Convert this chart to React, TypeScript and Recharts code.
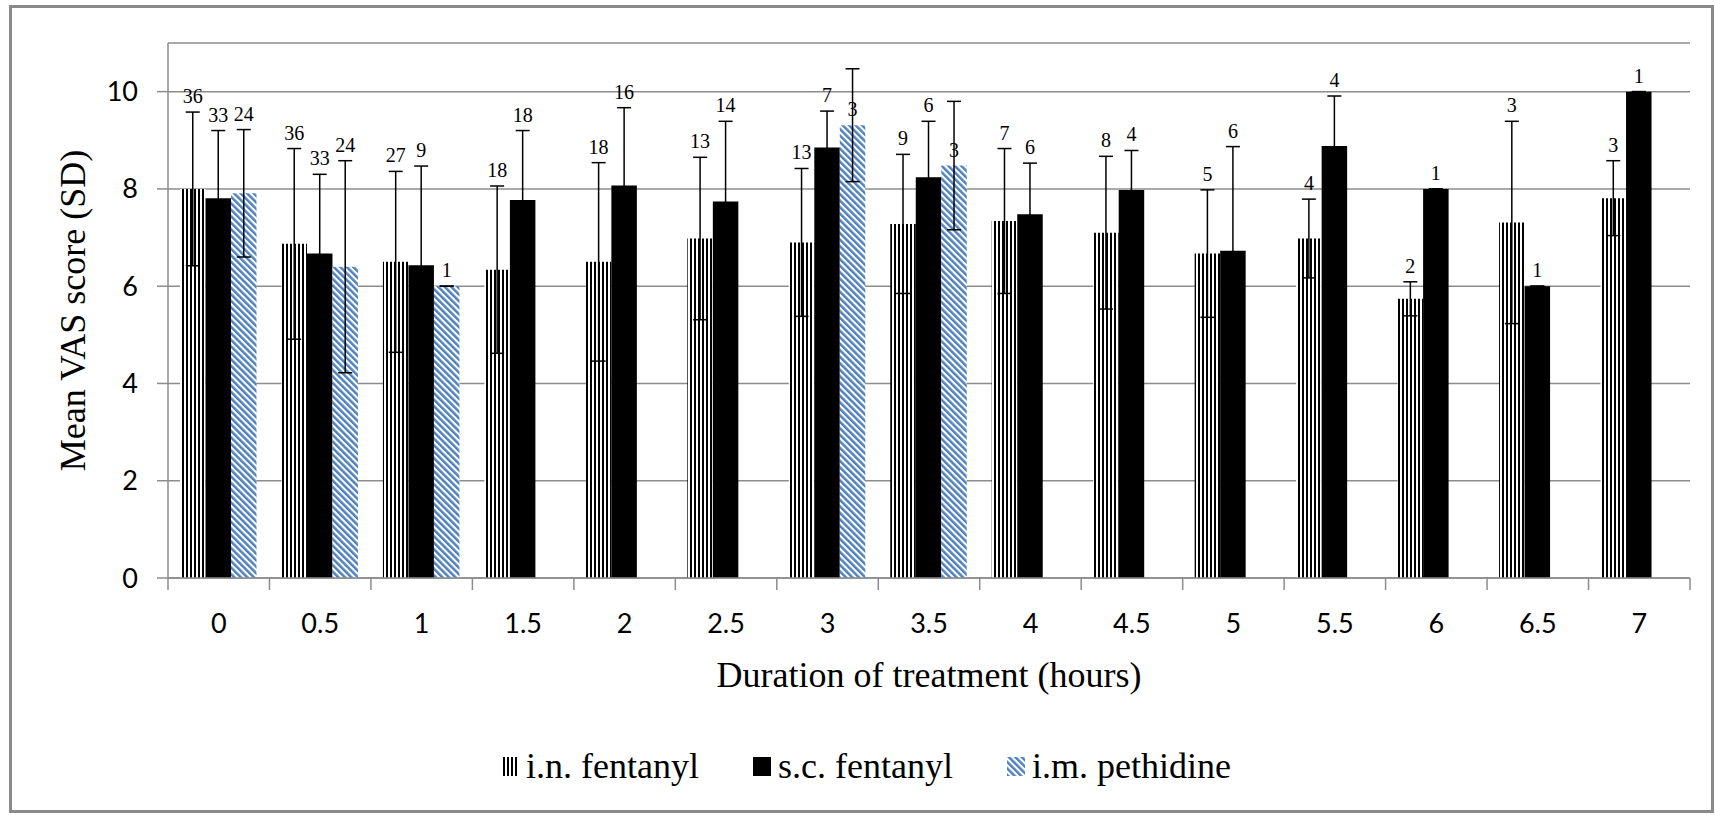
import React from 'react'
import { BarChart, Bar, XAxis, YAxis, CartesianGrid, ErrorBar, LabelList, Label } from 'recharts'

// time points (hours)
const categories = ['0', '0.5', '1', '1.5', '2', '2.5', '3', '3.5', '4', '4.5', '5', '5.5', '6', '6.5', '7']

// i.n. fentanyl
const inMean = [8.0, 6.87, 6.5, 6.34, 6.5, 6.98, 6.9, 7.28, 7.34, 7.1, 6.67, 6.98, 5.74, 7.31, 7.81]
const inSd = [1.58, 1.96, 1.86, 1.72, 2.04, 1.67, 1.52, 1.43, 1.49, 1.57, 1.31, 0.81, 0.35, 2.08, 0.77]
const inN = [36, 36, 27, 18, 18, 13, 13, 9, 7, 8, 5, 4, 2, 3, 3]

// s.c. fentanyl
const scMean = [7.81, 6.67, 6.43, 7.77, 8.07, 7.74, 8.85, 8.24, 7.48, 7.98, 6.73, 8.88, 8.0, 6.0, 10.0]
const scSd = [1.39, 1.63, 2.04, 1.43, 1.6, 1.65, 0.75, 1.15, 1.05, 0.81, 2.14, 1.03, 0, 0, 0]
const scN = [33, 33, 9, 18, 16, 14, 7, 6, 6, 4, 6, 4, 1, 1, 1]

// i.m. pethidine
const imMean = [7.91, 6.4, 6.0, null, null, null, 9.31, 8.48, null, null, null, null, null, null, null]
const imSd = [1.31, 2.18, 0, null, null, null, 1.16, 1.32, null, null, null, null, null, null, null]
const imN = [24, 24, 1, null, null, null, 3, 3, null, null, null, null, null, null, null]

const yTicks = [0, 2, 4, 6, 8, 10]

const data = categories.map((t, i) => ({
  t,
  inMean: inMean[i],
  inSd: inSd[i],
  inN: inN[i],
  scMean: scMean[i],
  scSd: scSd[i],
  scN: scN[i],
  imMean: imMean[i],
  imSd: imSd[i],
  imN: imN[i]
}))

const W = 1715
const H = 815
const PLOT_LEFT = 168
const PLOT_RIGHT = 1690
const HALF_BAND = (PLOT_RIGHT - PLOT_LEFT) / categories.length / 2

const GRAY = '#8c8c8c'
const BLUE = '#4f81bd'
const SERIF = '"Liberation Serif", "Times New Roman", serif'
const SANS = 'Lato, "Open Sans", sans-serif'

// symmetric error as [low, high] so that n=1 (sd 0) still draws the cap
const err = (key: string) => (d: any) => (d[key] == null ? null : [d[key], d[key]])

const countLabel = (meanKey: string, sdKey: string) => (props: any) => {
  const { x, y, width, height, value, index } = props
  if (value == null) return null
  const row: any = data[index]
  const mean = row[meanKey]
  const sd = row[sdKey] || 0
  const pxPerUnit = mean ? height / mean : 0
  const top = y - sd * pxPerUnit
  return (
    <text x={x + width / 2} y={top - 9} textAnchor="middle" fontFamily={SERIF} fontSize={20} fill="#000" stroke="none">
      {value}
    </text>
  )
}

const XTick = (props: any) => {
  const { x, y, payload } = props
  const last = payload.index === categories.length - 1
  return (
    <g>
      <line x1={x - HALF_BAND} y1={y} x2={x - HALF_BAND} y2={y + 12} stroke={GRAY} strokeWidth={1.5} />
      {last && <line x1={x + HALF_BAND} y1={y} x2={x + HALF_BAND} y2={y + 12} stroke={GRAY} strokeWidth={1.5} />}
      <text x={x} y={y + 55} textAnchor="middle" fontFamily={SANS} fontSize={27} fill="#000">
        {payload.value}
      </text>
    </g>
  )
}

const Patterns = ({ suffix }: { suffix: string }) => (
  <defs>
    <pattern id={'vstripe' + suffix} patternUnits="userSpaceOnUse" width={4} height={10}>
      <rect x={0} y={0} width={4} height={10} fill="#fff" />
      <rect x={2} y={0} width={2} height={10} fill="#000" />
    </pattern>
    <pattern id={'diag' + suffix} patternUnits="userSpaceOnUse" width={4.6} height={10} patternTransform="rotate(-45)">
      <rect x={0} y={0} width={4.6} height={10} fill="#fff" />
      <rect x={0} y={0} width={2.5} height={10} fill={BLUE} />
    </pattern>
  </defs>
)

const legendItems = [
  { name: 'i.n. fentanyl', fill: 'url(#vstripeL)' },
  { name: 's.c. fentanyl', fill: '#000' },
  { name: 'i.m. pethidine', fill: 'url(#diagL)' }
]

export default function App() {
  return (
    <div style={{ position: 'absolute', left: 0, top: 0, width: W, height: H, background: '#fff' }}>
      <div
        style={{
          position: 'absolute',
          left: 9,
          top: 5,
          width: 1705,
          height: 808,
          border: '3px solid #8a8a8a',
          boxSizing: 'border-box'
        }}
      />
      <div style={{ position: 'absolute', left: 0, top: 0 }}>
        <BarChart
          width={W}
          height={H}
          data={data}
          margin={{ top: 43, right: W - PLOT_RIGHT, left: 88, bottom: 117 }}
          barGap={0}
          barSize={25.5}
        >
          <Patterns suffix="" />
          <CartesianGrid vertical={false} stroke={GRAY} strokeWidth={1.5} />
          <XAxis
            dataKey="t"
            interval={0}
            height={120}
            tickLine={false}
            tickSize={0}
            tickMargin={0}
            axisLine={{ stroke: GRAY, strokeWidth: 1.5 }}
            tick={<XTick />}
          >
            <Label
              content={(p: any) => {
                const vb = p.viewBox
                return (
                  <text x={vb.x + vb.width / 2} y={vb.y + 109} textAnchor="middle" fontFamily={SERIF} fontSize={36} fill="#000">
                    Duration of treatment (hours)
                  </text>
                )
              }}
            />
          </XAxis>
          <YAxis
            width={80}
            domain={[0, 11]}
            ticks={yTicks}
            interval={0}
            tickSize={11}
            tickMargin={19}
            axisLine={{ stroke: GRAY, strokeWidth: 1.5 }}
            tickLine={{ stroke: GRAY, strokeWidth: 1.5 }}
            tick={{ fontFamily: SANS, fontSize: 27, fill: '#000' }}
          >
            <Label
              content={(p: any) => {
                const vb = p.viewBox
                const cx = vb.x - 15
                const cy = vb.y + vb.height / 2
                return (
                  <text
                    x={cx}
                    y={cy}
                    transform={`rotate(-90 ${cx} ${cy})`}
                    textAnchor="middle"
                    dominantBaseline="central"
                    fontFamily={SERIF}
                    fontSize={36}
                    fill="#000"
                  >
                    Mean VAS score (SD)
                  </text>
                )
              }}
            />
          </YAxis>
          <Bar dataKey="inMean" fill="url(#vstripe)" isAnimationActive={false}>
            <ErrorBar dataKey={err('inSd')} width={7} stroke="#000" strokeWidth={1.5} />
            <LabelList dataKey="inN" content={countLabel('inMean', 'inSd')} />
          </Bar>
          <Bar dataKey="scMean" fill="#000" isAnimationActive={false}>
            <ErrorBar dataKey={err('scSd')} width={7} stroke="#000" strokeWidth={1.5} />
            <LabelList dataKey="scN" content={countLabel('scMean', 'scSd')} />
          </Bar>
          <Bar dataKey="imMean" fill="url(#diag)" isAnimationActive={false}>
            <ErrorBar dataKey={err('imSd')} width={7} stroke="#000" strokeWidth={1.5} />
            <LabelList dataKey="imN" content={countLabel('imMean', 'imSd')} />
          </Bar>
        </BarChart>
      </div>
      <div
        style={{
          position: 'absolute',
          left: 0,
          width: 1732,
          top: 748,
          display: 'flex',
          justifyContent: 'center',
          alignItems: 'center',
          gap: 54,
          fontFamily: SERIF,
          fontSize: 36,
          lineHeight: '36px',
          color: '#000'
        }}
      >
        {legendItems.map((it) => (
          <div key={it.name} style={{ display: 'flex', alignItems: 'center', gap: 7 }}>
            <svg width={18} height={19}>
              <Patterns suffix="L" />
              <rect x={0} y={0} width={18} height={19} fill={it.fill} />
            </svg>
            <span>{it.name}</span>
          </div>
        ))}
      </div>
    </div>
  )
}
